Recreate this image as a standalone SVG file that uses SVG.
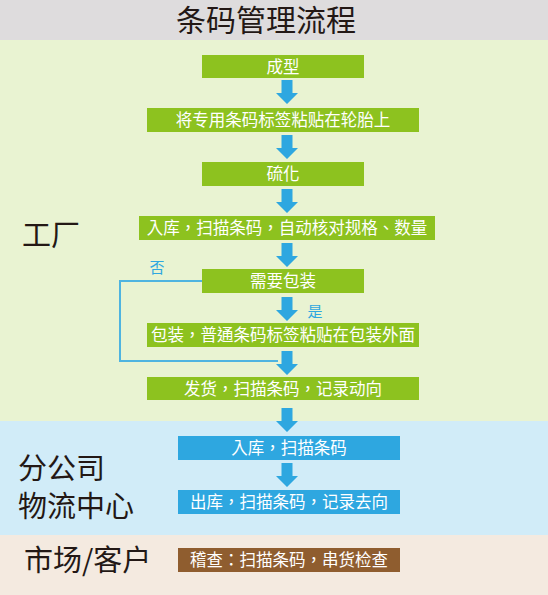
<svg xmlns="http://www.w3.org/2000/svg" xmlns:xlink="http://www.w3.org/1999/xlink" width="548" height="595" viewBox="0 0 548 595">
<style>
text{font-family:"Noto Sans CJK SC","Noto Sans",sans-serif}
.bt{fill:#fff;font-size:16.5px;text-anchor:middle;font-family:"Noto Sans CJK TC","Noto Sans CJK SC",sans-serif}
.g{fill:#8dc21f}
.b{fill:#2ea7e0}
.br{fill:#8f5d2f}
.sec{fill:#231815;font-size:29px}
.yn{fill:#2ea7e0;font-size:15px;text-anchor:middle}
.arr{fill:#2ea7e0}
</style>
<defs>
<path id="arr" class="arr" d="M-5.5 0h11v13h5.5l-11 11l-11 -11h5.5z"/>
</defs>
<g id="bands">
<rect x="0" y="0" width="548" height="40" fill="#dedcdd"/>
<rect x="0" y="40" width="548" height="381" fill="#e9f3d2"/>
<rect x="0" y="421" width="548" height="114" fill="#d1ecf8"/>
<rect x="0" y="535" width="548" height="60" fill="#f4eae0"/>
</g>
<text x="266" y="31" font-size="30" text-anchor="middle" fill="#231815">条码管理流程</text>
<text class="sec" x="22" y="246">工厂</text>
<text class="sec" x="18" y="479" font-size="28">分公司</text>
<text class="sec" x="18" y="517" font-size="28">物流中心</text>
<text class="sec" x="24" y="571">市场/客户</text>
<g id="connectors">
<polyline points="202,281 120,281 120,361 278,361" fill="none" stroke="#4fb4e0" stroke-width="2"/>
<use xlink:href="#arr" x="287" y="80"/>
<use xlink:href="#arr" x="287" y="135"/>
<use xlink:href="#arr" x="287" y="189"/>
<use xlink:href="#arr" x="287" y="243"/>
<use xlink:href="#arr" x="287" y="297"/>
<use xlink:href="#arr" x="287" y="351"/>
<use xlink:href="#arr" x="287" y="408"/>
<use xlink:href="#arr" x="287" y="463"/>
<text class="yn" x="157" y="273">否</text>
<text class="yn" x="315" y="317">是</text>
</g>
<g id="n1"><rect class="g" x="202" y="55" width="162" height="23"/><text class="bt" x="283" y="72.5">成型</text></g>
<g id="n2"><rect class="g" x="147" y="108" width="272" height="24"/><text class="bt" x="283" y="126">将专用条码标签粘贴在轮胎上</text></g>
<g id="n3"><rect class="g" x="202" y="162" width="162" height="24"/><text class="bt" x="283" y="180">硫化</text></g>
<g id="n4"><rect class="g" x="139" y="216" width="296" height="24"/><text class="bt" x="287" y="234">入库，扫描条码，自动核对规格、数量</text></g>
<g id="n5"><rect class="g" x="202" y="269" width="162" height="24"/><text class="bt" x="283" y="287">需要包装</text></g>
<g id="n6"><rect class="g" x="147" y="323" width="272" height="24"/><text class="bt" x="283" y="341">包装，普通条码标签粘贴在包装外面</text></g>
<g id="n7"><rect class="g" x="147" y="377" width="272" height="23"/><text class="bt" x="283" y="394.5">发货，扫描条码，记录动向</text></g>
<g id="n8"><rect class="b" x="178" y="436" width="222" height="24"/><text class="bt" x="289" y="454">入库，扫描条码</text></g>
<g id="n9"><rect class="b" x="178" y="490" width="222" height="24"/><text class="bt" x="289" y="508">出库，扫描条码，记录去向</text></g>
<g id="n10"><rect class="br" x="178" y="548" width="222" height="24"/><text class="bt" x="289" y="566">稽查：扫描条码，串货检查</text></g>
</svg>
